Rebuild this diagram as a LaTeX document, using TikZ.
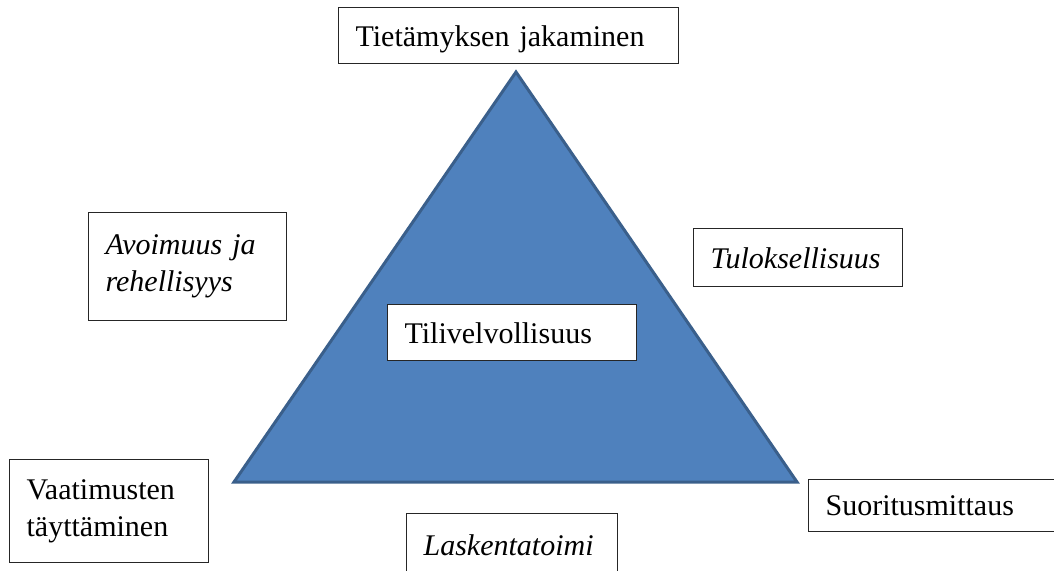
\documentclass[tikz,border=0pt]{standalone}
\usepackage{fontspec}
\setmainfont{Liberation Serif}
\usepackage{tikz}
\usetikzlibrary{positioning}
\definecolor{triblue}{HTML}{4F81BD}
\definecolor{triedge}{HTML}{3A5F8B}

\begin{document}
\begin{tikzpicture}[x=1pt,y=-1pt,
        lbl/.style={draw=black!85,line width=1.2pt,fill=white,anchor=north west,
                    inner xsep=17pt,inner ysep=0pt,align=left,
                    font=\fontsize{30}{37}\selectfont},
        lbli/.style={lbl,font=\fontsize{30}{37}\selectfont\itshape},
        flat/.style={text depth=0pt}]
      \useasboundingbox (0,0) rectangle (1054,570);
      \clip (0,0) rectangle (1054,570);
      % triangle
      \draw[triedge,fill=triblue,line width=3pt] (516,72) -- (797,482) -- (234,482) -- cycle;
      % corners
      \node[lbl,flat,text width=306pt,minimum height=56pt] (share) at (338,7) {Tietämyksen jakaminen};
      \node[lbl,text width=165pt,minimum height=103pt] (comply) at (9,459) {Vaatimusten\\täyttäminen};
      \node[lbl,flat,text width=228pt,minimum height=52pt] (measure) at (808,479) {Suoritusmittaus};
      % sides
      \node[lbli,text width=164pt,minimum height=108pt] (open) at (88,212) {Avoimuus ja\\rehellisyys};
      \node[lbli,flat,text width=175pt,minimum height=58pt] (result) at (693,228) {Tuloksellisuus};
      \node[lbli,flat,text width=177pt,minimum height=62pt] (account) at (406,513) {Laskentatoimi};
      % centre
      \node[lbl,flat,text width=215pt,minimum height=56pt] (duty) at (387,304) {Tilivelvollisuus};
    \end{tikzpicture}
\end{document}
